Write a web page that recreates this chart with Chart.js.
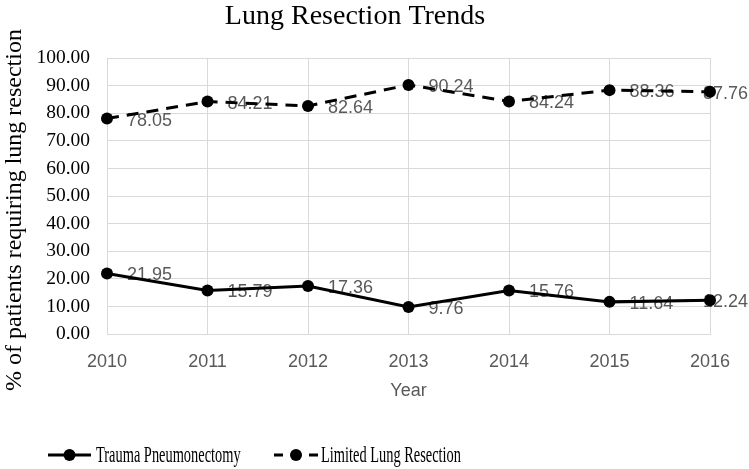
<!DOCTYPE html>
<html>
<head>
<meta charset="utf-8">
<script src="https://cdn.jsdelivr.net/npm/chart.js@4.4.1/dist/chart.umd.min.js"></script>
<style>
  html, body { margin: 0; padding: 0; background: #fff; }
  #wrap { width: 749px; height: 469px; position: relative; }
</style>
</head>
<body>
<div id="wrap"><canvas id="chart"></canvas></div>
<script>
/* ── Data ── */
const years = ['2010', '2011', '2012', '2013', '2014', '2015', '2016'];
const traumaPneumonectomy = [21.95, 15.79, 17.36, 9.76, 15.76, 11.64, 12.24];
const limitedResection = [78.05, 84.21, 82.64, 90.24, 84.24, 88.36, 87.76];
const seriesNames = ['Trauma Pneumonectomy', 'Limited Lung Resection'];
const chartTitle = 'Lung Resection Trends';
const yTitle = '% of patients requiring lung resection';
const xTitle = 'Year';

const SERIF = '"Liberation Serif", "Times New Roman", serif';
const SANS = '"Liberation Sans", Arial, sans-serif';
const GRID = '#d9d9d9';
const LABEL_GRAY = '#595959';

/* ── Point value labels (drawn under the markers, like Excel) ── */
const valueLabels = {
  id: 'valueLabels',
  beforeDatasetsDraw(chart) {
    const ctx = chart.ctx;
    ctx.save();
    ctx.font = '18px ' + SANS;
    ctx.fillStyle = LABEL_GRAY;
    ctx.textBaseline = 'middle';
    ctx.textAlign = 'left';
    chart.data.datasets.forEach((ds, di) => {
      chart.getDatasetMeta(di).data.forEach((pt, i) => {
        const txt = ds.data[i].toFixed(2);
        const w = ctx.measureText(txt).width;
        const x = Math.min(pt.x + 20, chart.width - w - 1);
        ctx.fillText(txt, x, pt.y + 2);
      });
    });
    ctx.restore();
  }
};

/* ── Y title + legend ── */
const extras = {
  id: 'extras',
  afterDraw(chart) {
    const ctx = chart.ctx;
    ctx.save();
    // rotated y-axis title
    ctx.translate(15, 210);
    ctx.rotate(-Math.PI / 2);
    ctx.font = '24px ' + SERIF;
    ctx.fillStyle = '#000';
    ctx.textAlign = 'center';
    ctx.textBaseline = 'middle';
    ctx.fillText(yTitle, 0, 0);
    ctx.restore();

    // legend
    const y = 455;
    const items = [
      { x0: 48, x1: 91, tx: 96, dash: [] },
      { x0: 274, x1: 318, tx: 321, dash: [9, 26] }
    ];
    chart.data.datasets.forEach((ds, di) => {
      const it = items[di];
      ctx.save();
      ctx.strokeStyle = '#000';
      ctx.lineWidth = 3;
      ctx.setLineDash(it.dash);
      ctx.beginPath();
      ctx.moveTo(it.x0, y);
      ctx.lineTo(it.x1, y);
      ctx.stroke();
      ctx.setLineDash([]);
      ctx.fillStyle = '#000';
      ctx.beginPath();
      ctx.arc((it.x0 + it.x1) / 2, y, 6, 0, Math.PI * 2);
      ctx.fill();
      ctx.translate(it.tx, y);
      ctx.scale(0.6, 1);
      ctx.font = '24px ' + SERIF;
      ctx.textBaseline = 'middle';
      ctx.textAlign = 'left';
      ctx.fillText(ds.label, 0, 1);
      ctx.restore();
    });
  }
};

function lineSet(label, data, dash) {
  return {
    label,
    data,
    borderColor: '#000',
    backgroundColor: '#000',
    borderWidth: 3,
    borderDash: dash,
    pointRadius: 6,
    pointHoverRadius: 6,
    pointBackgroundColor: '#000',
    pointBorderColor: '#000',
    pointBorderWidth: 0,
    tension: 0,
    fill: false
  };
}

new Chart(document.getElementById('chart'), {
  type: 'line',
  data: {
    labels: years,
    datasets: [
      lineSet(seriesNames[0], traumaPneumonectomy, []),
      lineSet(seriesNames[1], limitedResection, [12, 8])
    ]
  },
  options: {
    responsive: true,
    maintainAspectRatio: false,
    animation: false,
    layout: { padding: { left: 0, right: 39, top: 0, bottom: 63 } },
    plugins: {
      legend: { display: false },
      tooltip: { enabled: false },
      title: {
        display: true,
        text: chartTitle,
        color: '#000',
        font: { family: SERIF, size: 28, weight: 'normal' },
        padding: { top: 0, bottom: 24.4 }
      }
    },
    scales: {
      x: {
        offset: false,
        grid: { color: GRID, lineWidth: 1, drawTicks: false },
        border: { color: GRID, width: 1 },
        ticks: { color: LABEL_GRAY, font: { family: SANS, size: 18 }, padding: 17, maxRotation: 0 },
        title: { display: true, text: xTitle, color: LABEL_GRAY, font: { family: SANS, size: 18 }, padding: { top: 0, bottom: 4 } },
        afterFit: s => { s.height = 72; }
      },
      y: {
        min: 0,
        max: 100,
        grid: { color: GRID, lineWidth: 1, drawTicks: false },
        border: { display: false },
        ticks: {
          stepSize: 10,
          color: '#000',
          font: { family: SERIF, size: 19.5 },
          padding: 17,
          callback: v => Number(v).toFixed(2)
        },
        afterFit: s => { s.width = 107; }
      }
    }
  },
  plugins: [valueLabels, extras]
});
</script>
</body>
</html>
